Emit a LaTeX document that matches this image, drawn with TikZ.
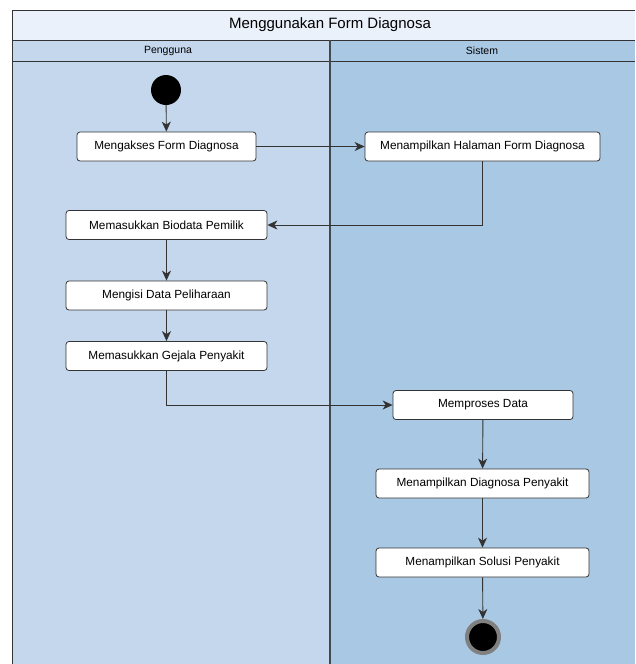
\documentclass[tikz,border=0pt]{standalone}
\usepackage{fontspec}
\setmainfont{Liberation Sans}
\usetikzlibrary{arrows.meta}

\definecolor{titlebg}{HTML}{EAF1FA}
\definecolor{lanea}{HTML}{C4D7EC}
\definecolor{laneb}{HTML}{A9C8E3}
\definecolor{edge}{HTML}{333333}

\tikzset{
  act/.style={draw=edge, fill=white, rounded corners=3pt, line width=0.8pt,
    minimum height=29pt, inner sep=0pt, font=\fontsize{11.8}{14}\selectfont},
  flow/.style={draw=edge, line width=0.9pt,
    -{Stealth[length=10pt,width=9pt,inset=3pt]}},
}

\begin{document}
\begin{tikzpicture}[x=1pt,y=-1pt]
  \useasboundingbox (0,0) rectangle (635,664);
  % swimlanes
  \fill[lanea] (12,40) rectangle (330,664);
  \fill[laneb] (330,40) rectangle (635,664);
  \fill[titlebg] (12,10) rectangle (635,40);
  \draw[edge, line width=0.8pt] (12,664) -- (12,10) -- (635,10);
  \draw[edge, line width=0.8pt] (12,40) -- (635,40);
  \draw[edge, line width=0.8pt] (12,61) -- (635,61);
  \draw[edge!85!laneb, line width=1.2pt] (330,40) -- (330,664);
  \node[font=\fontsize{15}{17}\selectfont] (title) at (330,25) {Menggunakan Form Diagnosa};
  \node[font=\fontsize{10.5}{12}\selectfont] (pengguna) at (168,51) {Pengguna};
  \node[font=\fontsize{10.5}{12}\selectfont] (sistem) at (482,51) {Sistem};

  % activities
  \node[circle, fill=black, minimum size=30pt, inner sep=0pt] (start) at (166,90) {};
  \node[act, minimum width=179pt] (akses) at (166.5,146.5) {Mengakses Form Diagnosa};
  \node[act, minimum width=235pt] (halaman) at (482.5,146.5) {Menampilkan Halaman Form Diagnosa};
  \node[act, minimum width=201pt] (biodata) at (166.5,225) {Memasukkan Biodata Pemilik};
  \node[act, minimum width=201pt] (isi) at (166.5,295.5) {Mengisi Data Peliharaan};
  \node[act, minimum width=201pt] (gejala) at (166.5,356) {Memasukkan Gejala Penyakit};
  \node[act, minimum width=180pt] (proses) at (483,405) {Memproses Data};
  \node[act, minimum width=213pt] (diagnosa) at (482.5,483.5) {Menampilkan Diagnosa Penyakit};
  \node[act, minimum width=213pt] (solusi) at (482.5,562.5) {Menampilkan Solusi Penyakit};
  \node[circle, fill=black, draw=gray, line width=4pt, minimum size=32pt, inner sep=0pt] (end) at (483,637) {};

  % flows
  \draw[flow] (start) -- (akses);
  \draw[flow] (akses) -- (halaman);
  \draw[flow] (halaman.south) |- (biodata.east);
  \draw[flow] (biodata) -- (isi);
  \draw[flow] (isi) -- (gejala);
  \draw[flow] (gejala.south) |- (proses.west);
  \draw[flow] (proses) -- (diagnosa);
  \draw[flow] (diagnosa) -- (solusi);
  \draw[flow] (solusi) -- (end);
\end{tikzpicture}
\end{document}
